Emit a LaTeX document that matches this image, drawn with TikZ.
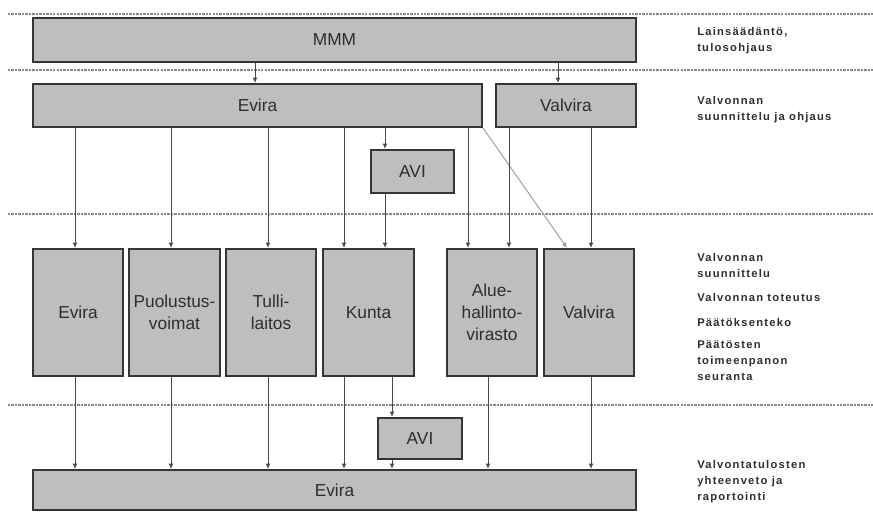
\documentclass[tikz,border=0pt]{standalone}
\usepackage{fontspec}
\setmainfont{Liberation Sans}
\newfontfamily\sidefont[LetterSpace=11]{Liberation Sans}
\usetikzlibrary{arrows.meta}
\definecolor{boxfill}{HTML}{BEBEBE}
\definecolor{boxline}{HTML}{363636}
\definecolor{txt}{HTML}{2E2E2E}
\definecolor{conn}{HTML}{4A4A4A}
\definecolor{diag}{HTML}{9A9A9A}
\definecolor{dashc}{HTML}{8A8A8A}
\begin{document}
\begin{tikzpicture}[x=0.75pt,y=-0.75pt,
 box/.style={draw=boxline, fill=boxfill, line width=1.6pt, inner sep=0pt, align=center, text=txt, font=\fontsize{13}{16.5}\selectfont},
 link/.style={draw=conn, line width=0.7pt, -{Latex[length=4pt,width=3.6pt]}},
 sep/.style={draw=dashc, line width=1.6pt, dash pattern=on 1.8pt off 0.8pt},
 side/.style={anchor=west, align=left, inner sep=0pt, text=txt, font=\sidefont\bfseries\fontsize{8.4}{12}\selectfont}]

\useasboundingbox (0,0) rectangle (873,512);

% separators
\foreach \yy/\nm in {14/a,70/b,214/c,405/d}{
  \coordinate (sl\nm) at (8,\yy);
  \coordinate (sr\nm) at (873,\yy);
  \draw[sep] (sl\nm) -- (sr\nm);
}

% boxes
\node[box, minimum width=452.25pt, minimum height=33pt] (MMM) at (334.5,40) {MMM};
\node[box, minimum width=336.75pt, minimum height=32.25pt] (EviraT) at (257.5,105.5) {Evira};
\node[box, minimum width=105pt, minimum height=32.25pt] (ValviraT) at (566,105.5) {Valvira};
\node[box, minimum width=62.25pt, minimum height=32.25pt] (AVI1) at (412.5,171.5) {AVI};

\node[box, minimum width=67.5pt, minimum height=95.25pt] (Evira2) at (78,312.5) {Evira};
\node[box, minimum width=68.25pt, minimum height=95.25pt] (Puol) at (174.5,312.5) {Puolustus-\\voimat};
\node[box, minimum width=67.5pt, minimum height=95.25pt] (Tulli) at (271,312.5) {Tulli-\\laitos};
\node[box, minimum width=68.25pt, minimum height=95.25pt] (Kunta) at (368.5,312.5) {Kunta};
\node[box, minimum width=67.5pt, minimum height=95.25pt] (Alue) at (492,312.5) {Alue-\\hallinto-\\virasto};
\node[box, minimum width=67.5pt, minimum height=95.25pt] (Valvira2) at (589,312.5) {Valvira};

\node[box, minimum width=63pt, minimum height=30.75pt] (AVI2) at (420,438.5) {AVI};
\node[box, minimum width=452.25pt, minimum height=30pt] (EviraB) at (334.5,490) {Evira};

% x positions of connectors
\foreach \xx in {75,171,255,268,344,385,392,468,488,509,558,567,591}{
  \coordinate (x\xx) at (\xx,0);
}

% top level
\draw[link] (MMM.south -| x255) -- (EviraT.north -| x255);
\draw[link] (MMM.south -| x558) -- (ValviraT.north -| x558);

% from Evira / Valvira to operational level
\draw[link] (EviraT.south -| x75) -- (Evira2.north -| x75);
\draw[link] (EviraT.south -| x171) -- (Puol.north -| x171);
\draw[link] (EviraT.south -| x268) -- (Tulli.north -| x268);
\draw[link] (EviraT.south -| x344) -- (Kunta.north -| x344);
\draw[link] (EviraT.south -| x385) -- (AVI1.north -| x385);
\draw[link] (AVI1.south -| x385) -- (Kunta.north -| x385);
\draw[link] (EviraT.south -| x468) -- (Alue.north -| x468);
\draw[link, draw=diag] (EviraT.south east) -- (Valvira2.north -| x567);
\draw[link] (ValviraT.south -| x509) -- (Alue.north -| x509);
\draw[link] (ValviraT.south -| x591) -- (Valvira2.north -| x591);

% to reporting
\draw[link] (Evira2.south -| x75) -- (EviraB.north -| x75);
\draw[link] (Puol.south -| x171) -- (EviraB.north -| x171);
\draw[link] (Tulli.south -| x268) -- (EviraB.north -| x268);
\draw[link] (Kunta.south -| x344) -- (EviraB.north -| x344);
\draw[link] (Kunta.south -| x392) -- (AVI2.north -| x392);
\draw[link] (AVI2.south -| x392) -- (EviraB.north -| x392);
\draw[link] (Alue.south -| x488) -- (EviraB.north -| x488);
\draw[link] (Valvira2.south -| x591) -- (EviraB.north -| x591);

% side texts
\node[side] (t1) at (697,41) {Lainsäädäntö,\\tulosohjaus};
\node[side] (t2) at (697,109.5) {Valvonnan\\suunnittelu ja ohjaus};
\node[side] (t3) at (697,265.5) {Valvonnan\\suunnittelu};
\node[side] (t4) at (697,297) {Valvonnan toteutus};
\node[side] (t5) at (697,322) {Päätöksenteko};
\node[side] (t6) at (697,361) {Päätösten\\toimeenpanon\\seuranta};
\node[side] (t7) at (697,481.5) {Valvontatulosten\\yhteenveto ja\\raportointi};
\end{tikzpicture}
\end{document}
